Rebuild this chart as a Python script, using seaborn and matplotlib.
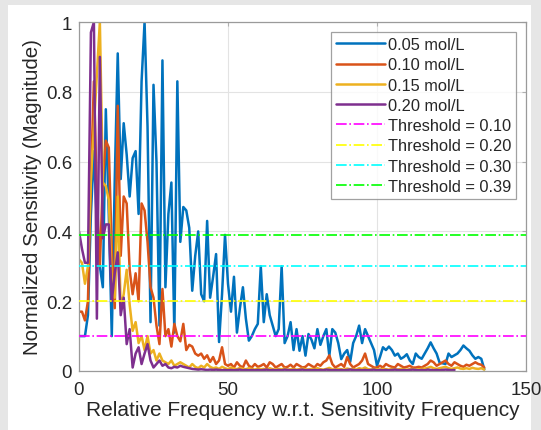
import numpy as np
import pandas as pd
import matplotlib
matplotlib.use("Agg")
import matplotlib.pyplot as plt
import seaborn as sns
from matplotlib.patches import Rectangle

# ---------------- data ----------------
series_labels = ["0.05 mol/L", "0.10 mol/L", "0.15 mol/L", "0.20 mol/L"]
series_colors = ["#0072BD", "#D95319", "#EDB120", "#7E2F8E"]

blue = [0.10, 0.10, 0.10, 0.16, 0.45, 0.63, 0.42, 0.30, 0.24, 0.75,
        0.45, 0.10, 0.55, 0.91, 0.55, 0.71, 0.62, 0.50, 0.61, 0.63,
        0.45, 0.83, 1.00, 0.70, 0.14, 0.82, 0.60, 0.13, 0.89, 0.24,
        0.45, 0.54, 0.11, 0.83, 0.37, 0.47, 0.46, 0.41, 0.23, 0.33,
        0.40, 0.22, 0.20, 0.43, 0.21, 0.27, 0.335, 0.083, 0.22, 0.39,
        0.25, 0.17, 0.27, 0.11, 0.18, 0.24, 0.15, 0.087, 0.10, 0.12,
        0.135, 0.30, 0.14, 0.22, 0.16, 0.13, 0.10, 0.12, 0.30, 0.08,
        0.10, 0.14, 0.06, 0.12, 0.058, 0.10, 0.044, 0.106, 0.09, 0.065,
        0.12, 0.075, 0.10, 0.12, 0.044, 0.12, 0.11, 0.08, 0.034, 0.05,
        0.06, 0.026, 0.08, 0.10, 0.13, 0.08, 0.12, 0.10, 0.08, 0.06,
        0.015, 0.04, 0.068, 0.06, 0.07, 0.06, 0.044, 0.05, 0.035, 0.04,
        0.048, 0.03, 0.02, 0.05, 0.04, 0.035, 0.05, 0.065, 0.082, 0.065,
        0.05, 0.024, 0.022, 0.02, 0.05, 0.04, 0.045, 0.05, 0.06, 0.073,
        0.065, 0.058, 0.045, 0.035, 0.04, 0.035, 0.005]

red = [0.17, 0.17, 0.145, 0.20, 0.55, 0.83, 0.50, 0.30, 0.55, 0.66,
       0.64, 0.35, 0.18, 0.76, 0.33, 0.50, 0.48, 0.29, 0.22, 0.28,
       0.20, 0.48, 0.46, 0.37, 0.24, 0.21, 0.13, 0.077, 0.235, 0.10,
       0.12, 0.07, 0.135, 0.10, 0.085, 0.135, 0.06, 0.075, 0.07, 0.05,
       0.044, 0.05, 0.035, 0.045, 0.026, 0.04, 0.02, 0.03, 0.068, 0.02,
       0.015, 0.02, 0.01, 0.025, 0.015, 0.01, 0.03, 0.015, 0.01, 0.02,
       0.012, 0.015, 0.02, 0.01, 0.025, 0.02, 0.01, 0.015, 0.02, 0.01,
       0.012, 0.018, 0.01, 0.02, 0.015, 0.01, 0.012, 0.02, 0.015, 0.01,
       0.02, 0.015, 0.025, 0.03, 0.045, 0.02, 0.01, 0.015, 0.02, 0.012,
       0.04, 0.02, 0.01, 0.015, 0.02, 0.03, 0.05, 0.02, 0.015, 0.01,
       0.01, 0.015, 0.01, 0.02, 0.015, 0.012, 0.01, 0.02, 0.015, 0.01,
       0.012, 0.015, 0.01, 0.01, 0.012, 0.01, 0.015, 0.02, 0.03, 0.025,
       0.015, 0.02, 0.025, 0.03, 0.02, 0.015, 0.025, 0.02, 0.015, 0.012,
       0.018, 0.015, 0.02, 0.025, 0.02, 0.018, 0.01]

orange = [0.32, 0.31, 0.25, 0.30, 0.55, 0.70, 0.85, 1.00, 0.54, 0.53,
          0.49, 0.26, 0.21, 0.50, 0.18, 0.22, 0.29, 0.19, 0.115, 0.14,
          0.08, 0.10, 0.06, 0.10, 0.05, 0.06, 0.03, 0.05, 0.03, 0.025,
          0.02, 0.03, 0.015, 0.02, 0.025, 0.02,
          0.015, 0.01, 0.02, 0.012, 0.008, 0.015, 0.01, 0.02, 0.012, 0.008,
          0.01, 0.006, 0.012, 0.008, 0.005, 0.01, 0.007, 0.005, 0.009, 0.006,
          0.005, 0.008, 0.006, 0.004, 0.007, 0.005, 0.006, 0.004, 0.008, 0.005,
          0.004, 0.006, 0.005, 0.007, 0.004, 0.005, 0.006, 0.004, 0.005, 0.007,
          0.005, 0.004, 0.006, 0.005, 0.008, 0.005, 0.004, 0.006, 0.009, 0.005,
          0.004, 0.006, 0.005, 0.004, 0.007, 0.005, 0.006, 0.004, 0.008, 0.006,
          0.01, 0.005, 0.004, 0.006, 0.005, 0.004, 0.006, 0.005, 0.004, 0.006,
          0.005, 0.004, 0.006, 0.005, 0.004, 0.005, 0.006, 0.004, 0.005, 0.006,
          0.007, 0.009, 0.012, 0.008, 0.006, 0.008, 0.01, 0.012, 0.008, 0.006,
          0.008, 0.01, 0.007, 0.006, 0.008, 0.006, 0.009, 0.007, 0.006, 0.008,
          0.004]

purple = [0.40, 0.35, 0.31, 0.31, 0.97, 1.00, 0.15, 0.90, 0.38, 0.42,
          0.42, 0.20, 0.28, 0.34, 0.16, 0.21, 0.077, 0.12, 0.01, 0.05,
          0.068, 0.02, 0.05, 0.077, 0.03, 0.01, 0.02, 0.03, 0.015, 0.02,
          0.01,
          0.008, 0.012, 0.01, 0.015, 0.012, 0.01, 0.008, 0.006, 0.005, 0.004,
          0.005, 0.004, 0.003, 0.004, 0.003, 0.004, 0.003, 0.002, 0.003, 0.002,
          0.003, 0.002, 0.003, 0.004, 0.002, 0.003, 0.002, 0.003, 0.002, 0.003,
          0.002, 0.003, 0.004, 0.002, 0.003, 0.002, 0.003, 0.002, 0.004, 0.003,
          0.002, 0.003, 0.002, 0.003, 0.004, 0.002, 0.003, 0.002, 0.003, 0.002,
          0.003, 0.002, 0.004, 0.003, 0.002, 0.003, 0.002, 0.003, 0.002, 0.003,
          0.004, 0.003, 0.002, 0.003, 0.002, 0.003, 0.002, 0.003, 0.004, 0.002,
          0.003, 0.002, 0.003, 0.002, 0.003, 0.004, 0.003, 0.002, 0.003, 0.002,
          0.003, 0.004, 0.003, 0.002, 0.003, 0.002, 0.004, 0.003, 0.002, 0.003,
          0.002, 0.003, 0.004, 0.003, 0.002, 0.003]

thresholds = [0.10, 0.20, 0.30, 0.39]
threshold_labels = ["Threshold = 0.10", "Threshold = 0.20",
                    "Threshold = 0.30", "Threshold = 0.39"]
threshold_colors = ["#FF00FF", "#FFFF00", "#00FFFF", "#00FF00"]

x_ticks = [0, 50, 100, 150]
y_ticks = [0, 0.2, 0.4, 0.6, 0.8, 1.0]
y_tick_labels = ["0", "0.2", "0.4", "0.6", "0.8", "1"]

# ---------------- build table ----------------
frames = []
for lab, vals in zip(series_labels, [blue, red, orange, purple]):
    frames.append(pd.DataFrame({"x": np.arange(len(vals), dtype=float),
                                "y": np.asarray(vals, dtype=float),
                                "series": lab}))
df = pd.concat(frames, ignore_index=True)

# ---------------- style ----------------
sns.set_style("white")
plt.rcParams["font.family"] = ["Liberation Sans", "DejaVu Sans"]

fig = plt.figure(figsize=(5.41, 4.31), dpi=100, facecolor="#e6e6e6")
bg = Rectangle((8 / 541, 0), 1 - 18 / 541, 1 - 6 / 431,
               transform=fig.transFigure, facecolor="white",
               edgecolor="none", zorder=-10)
fig.add_artist(bg)
ax = fig.add_axes([79 / 541, 1 - 372 / 431, 447 / 541, 349 / 431])
ax.set_zorder(5)
ax.set_facecolor("white")

sns.lineplot(data=df, x="x", y="y", hue="series", hue_order=series_labels,
             palette=series_colors, linewidth=1.8, ax=ax, legend=False,
             estimator=None)

thr_handles = []
for t, c, lab in zip(thresholds, threshold_colors, threshold_labels):
    h = ax.axhline(t, color=c, linestyle="-.", linewidth=1.2, label=lab, zorder=3)
    thr_handles.append(h)

series_handles = [plt.Line2D([], [], color=c, linewidth=1.8) for c in series_colors]

ax.set_xlim(0, 150)
ax.set_ylim(0, 1)
ax.set_xticks(x_ticks)
ax.set_yticks(y_ticks)
ax.set_yticklabels(y_tick_labels)
ax.grid(True, color="#e3e3e3", linewidth=0.8)
ax.set_axisbelow(True)
ax.tick_params(direction="in", length=3, labelsize=13.5, colors="#262626",
               top=True, right=True)
ax.tick_params(axis="x", pad=7)
ax.tick_params(axis="y", pad=5)
ax.tick_params(color="#b0b0b0")
for s in ax.spines.values():
    s.set_color("#9a9a9a")
    s.set_linewidth(0.9)

ax.set_xlabel("Relative Frequency w.r.t. Sensitivity Frequency", fontsize=15,
              color="#262626", labelpad=2)
ax.set_ylabel("Normalized Sensitivity (Magnitude)", fontsize=14.8,
              color="#262626", labelpad=3)

leg = ax.legend(series_handles + thr_handles, series_labels + threshold_labels,
                loc="upper right", bbox_to_anchor=(0.978, 0.971),
                borderaxespad=0, fontsize=11.8, frameon=True, fancybox=False,
                handlelength=3.0, handletextpad=0.15, labelspacing=0.32,
                borderpad=0.3)
leg.get_frame().set_edgecolor("#8a8a8a")
leg.get_frame().set_linewidth(0.9)
for t in leg.get_texts():
    t.set_color("#262626")

fig.savefig("out.png", dpi=100, facecolor=fig.get_facecolor())
